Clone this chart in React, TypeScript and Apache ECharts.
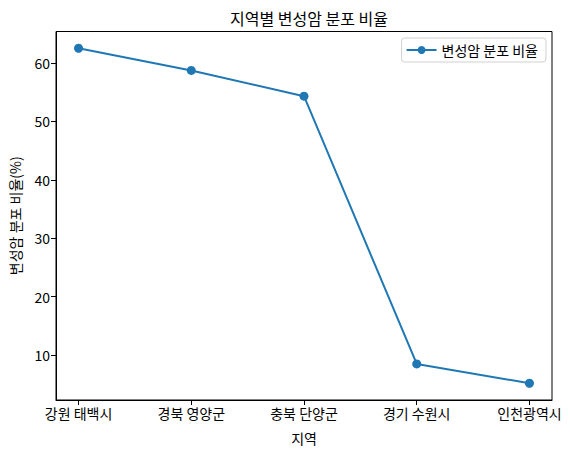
import React, { useEffect, useRef } from "react";
import * as echarts from "echarts";

const categories = ["강원 태백시", "경북 영양군", "충북 단양군", "경기 수원시", "인천광역시"];
const values = [62.5, 58.7, 54.3, 8.5, 5.2];
const yTicks = [10, 20, 30, 40, 50, 60];
const seriesName = "변성암 분포 비율";

const FONT = "'Noto Sans CJK KR', 'Noto Sans', sans-serif";

export default function App() {
  const ref = useRef<HTMLDivElement>(null);
  useEffect(() => {
    document.body.style.margin = "0";
    const chart = echarts.init(ref.current!, null, { renderer: "svg" });
    const span = Math.max(...values) - Math.min(...values);
    const yMin = Math.min(...values) - span * 0.05;
    const yMax = Math.max(...values) + span * 0.05;
    const n = categories.length - 1;
    chart.setOption({
      animation: false,
      textStyle: { fontFamily: FONT },
      title: {
        text: "지역별 변성암 분포 비율",
        left: 304,
        top: 5,
        textAlign: "center",
        textStyle: { fontFamily: FONT, fontSize: 16, fontWeight: "normal", color: "#000" },
      },
      legend: {
        data: [seriesName],
        right: 24,
        top: 38,
        itemWidth: 30,
        itemHeight: 10,
        itemGap: 10,
        padding: [5, 8, 5, 4],
        borderColor: "#d0d0d0",
        borderWidth: 1,
        borderRadius: 3,
        backgroundColor: "#fff",
        textStyle: { fontFamily: FONT, fontSize: 14, color: "#000" },
      },
      grid: {
        left: 56,
        right: 18,
        top: 31.5,
        bottom: 54,
        show: true,
        borderColor: "#000",
        borderWidth: 1,
        containLabel: false,
      },
      xAxis: {
        type: "value",
        min: -0.05 * n,
        max: n + 0.05 * n,
        name: "지역",
        nameLocation: "middle",
        nameGap: 31,
        nameTextStyle: { fontFamily: FONT, fontSize: 14, color: "#000" },
        splitLine: { show: false },
        axisLine: { show: true, onZero: false, lineStyle: { color: "#000", width: 1 } },
        axisTick: { show: true, length: 5, lineStyle: { color: "#000" }, customValues: categories.map((_, i) => i) },
        axisLabel: {
          customValues: categories.map((_, i) => i),
          formatter: (v: number) => categories[Math.round(v)] ?? "",
          fontFamily: FONT,
          fontSize: 14,
          color: "#000",
          margin: 6,
        },
      },
      yAxis: {
        type: "value",
        min: yMin,
        max: yMax,
        name: "변성암 분포 비율(%)",
        nameLocation: "middle",
        nameGap: 34,
        nameTextStyle: { fontFamily: FONT, fontSize: 14, color: "#000" },
        splitLine: { show: false },
        axisLine: { show: true, onZero: false, lineStyle: { color: "#000", width: 1 } },
        axisTick: { show: true, length: 5, lineStyle: { color: "#000" }, customValues: yTicks },
        axisLabel: {
          customValues: yTicks,
          fontFamily: FONT,
          fontSize: 14,
          color: "#000",
          margin: 6,
        },
      },
      series: [
        {
          name: seriesName,
          type: "line",
          data: values.map((v, i) => [i, v]),
          symbol: "circle",
          symbolSize: 9,
          lineStyle: { color: "#1f77b4", width: 2 },
          itemStyle: { color: "#1f77b4" },
        },
      ],
    });
    return () => chart.dispose();
  }, []);
  return <div ref={ref} style={{ width: 570, height: 454 }} />;
}
